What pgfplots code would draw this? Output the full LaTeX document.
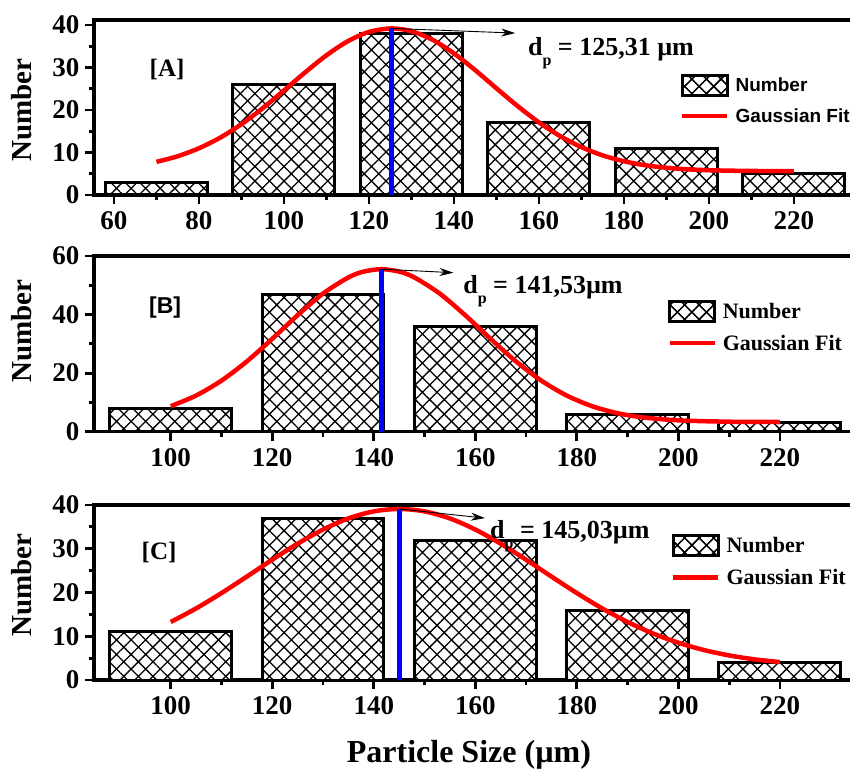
\documentclass[border=0pt]{standalone}
\usepackage{fontspec}
\setmainfont{Liberation Serif}
\setsansfont{Liberation Sans}
\usepackage{pgfplots}
\pgfplotsset{compat=1.18}
\usetikzlibrary{patterns.meta, arrows.meta}

\pgfplotsset{
  panel/.style={
    scale only axis, width=759pt, clip=false,
    axis line style={line width=3.2pt},
    tick align=outside, tick pos=left,
    major tick length=9pt, minor tick length=5pt,
    tick style={black, line width=2.8pt},
    minor x tick num=1, minor y tick num=1,
    /pgf/number format/assume math mode=true,
    ticklabel style={font=\bfseries\fontsize{27}{27}\selectfont},
    xticklabel style={yshift=-4pt},
    yticklabel style={xshift=-2pt},
    ymin=0,
    legend cell align=left,
    ylabel={Number},
    ylabel style={font=\bfseries\fontsize{29}{29}\selectfont, anchor=center},
  },
  hbar/.style={ybar, bar width=24, bar shift=0pt, draw=black, line width=3pt, fill=white,
    postaction={pattern={Hatch[angle=45,distance=10.3pt,line width=1.3pt]}},
    legend image code/.code={\draw[black, line width=3pt, fill=white, postaction={pattern={Hatch[angle=45,distance=10.3pt,line width=1.3pt]}}] (0pt,-10pt) rectangle (45pt,10pt);}},
  fitline/.style={red, line width=4.5pt, smooth, no marks,
    legend image code/.code={\draw[red, line width=4.5pt] (0pt,0pt) -- (45pt,0pt);}},
  dpline/.style={blue, line width=4.5pt, no marks, forget plot},
  legstyle/.style={draw=none, fill=none, anchor=north west, row sep=10pt, inner sep=0pt,
    /tikz/every odd column/.append style={column sep=4pt}},
}

\begin{document}
\begin{tikzpicture}
% ---------------- Panel A ----------------
\begin{axis}[panel, at={(94pt,576pt)}, anchor=south west, height=175pt,
  xmin=55.3, xmax=233.9, ymax=41.18,
  xtick={60,80,...,220}, ytick={0,10,20,30,40},
  ylabel style={at={(rel axis cs:-0.095,0.486)}},
  legend style={legstyle, at={(rel axis cs:0.772,0.695)},
    font=\sffamily\bfseries\fontsize{19}{19}\selectfont}]
\addplot[hbar] coordinates {(70,3) (100,26) (130,38) (160,17) (190,11) (220,5)};
\addlegendentry{Number}
\addplot[fitline] coordinates {(70,7.80)(75,9.12)(80,11.00)(85,13.50)(90,16.66)(95,20.43)(100,24.59)(105,28.87)(110,32.87)(115,36.17)(120,38.37)(125.3,39.20)(130,38.54)(135,36.50)(140,33.31)(145,29.38)(150,25.10)(155,20.91)(160,17.09)(165,13.85)(170,11.26)(175,9.32)(180,7.94)(185,7.00)(190,6.41)(195,6.04)(200,5.83)(205,5.72)(210,5.66)(215,5.62)(220,5.61)};
\addlegendentry{Gaussian Fit}
\addplot[dpline] coordinates {(125.31,0) (125.31,39.2)};
\draw[-{Stealth[length=14pt,width=8pt]}, line width=0.9pt] (axis cs:125.31,39.2) -- (axis cs:154.4,38.1);
\node[anchor=base west, inner sep=0pt, font=\bfseries\fontsize{26}{26}\selectfont] at (axis cs:157.4,32.9) {d\raisebox{-10pt}{\fontsize{16}{16}\selectfont p} = 125,31 µm};
\node[font=\bfseries\fontsize{25}{25}\selectfont] at (axis cs:72.5,29.6) {[A]};
\end{axis}
% ---------------- Panel B ----------------
\begin{axis}[panel, at={(94pt,339.3pt)}, anchor=south west, height=175.7pt,
  xmin=84.89, xmax=234.4, ymax=60,
  xtick={100,120,...,220}, ytick={0,20,40,60},
  ylabel style={at={(rel axis cs:-0.095,0.573)}},
  legend style={legstyle, at={(rel axis cs:0.755,0.752)},
    font=\bfseries\fontsize{22}{22}\selectfont}]
\addplot[hbar] coordinates {(100,8) (130,47) (160,36) (190,6) (220,3)};
\addlegendentry{Number}
\addplot[fitline] coordinates {(100,8.71)(105,12.35)(110,17.45)(115,24.02)(120,31.72)(125,39.79)(130,47.16)(135,52.68)(138,54.67)(141.5,55.5)(145,54.67)(148,52.68)(153,47.16)(158,39.79)(163,31.72)(168,24.02)(173,17.45)(178,12.35)(183,8.71)(188,6.33)(193,4.89)(200,3.88)(210,3.41)(220,3.31)};
\addlegendentry{Gaussian Fit}
\addplot[dpline] coordinates {(141.53,0) (141.53,55.5)};
\draw[-{Stealth[length=14pt,width=8pt]}, line width=0.9pt] (axis cs:141.53,55.5) -- (axis cs:155.7,54.3);
\node[anchor=base west, inner sep=0pt, font=\bfseries\fontsize{26}{26}\selectfont] at (axis cs:157.6,47.3) {d\raisebox{-10pt}{\fontsize{16}{16}\selectfont p} = 141,53µm};
\node[font=\sffamily\bfseries\fontsize{23}{23}\selectfont] at (axis cs:98.9,42.4) {[B]};
\end{axis}
% ---------------- Panel C ----------------
\begin{axis}[panel, at={(94pt,91pt)}, anchor=south west, height=175pt,
  xmin=84.89, xmax=234.4, ymax=40,
  xtick={100,120,...,220}, ytick={0,10,20,30,40},
  ylabel style={at={(rel axis cs:-0.095,0.543)}},
  xlabel={Particle Size (µm)},
  xlabel style={font=\bfseries\fontsize{32}{32}\selectfont, at={(rel axis cs:0.494,-0.43)}, anchor=center},
  legend style={legstyle, at={(rel axis cs:0.76,0.835)},
    font=\bfseries\fontsize{22}{22}\selectfont}]
\addplot[hbar] coordinates {(100,11) (130,37) (160,32) (190,16) (220,4)};
\addlegendentry{Number}
\addplot[fitline] coordinates {(100,13.26)(105,16.36)(110,19.87)(115,23.64)(120,27.49)(125,31.16)(130,34.39)(135,36.93)(140,38.54)(145,39.10)(150,38.54)(155,36.93)(160,34.39)(165,31.16)(170,27.49)(175,23.64)(180,19.87)(185,16.36)(190,13.26)(195,10.64)(200,8.52)(205,6.86)(210,5.62)(215,4.72)(220,4.10)};
\addlegendentry{Gaussian Fit}
\addplot[dpline] coordinates {(145.03,0) (145.03,39.1)};
\draw[-{Stealth[length=14pt,width=8pt]}, line width=0.9pt] (axis cs:145.03,39.1) -- (axis cs:161.9,37);
\node[anchor=base west, inner sep=0pt, font=\bfseries\fontsize{26}{26}\selectfont] at (axis cs:162.9,32.4) {d\raisebox{-10pt}{\fontsize{16}{16}\selectfont p} = 145,03µm};
\node[font=\bfseries\fontsize{25}{25}\selectfont] at (axis cs:97.7,29.1) {[C]};
\end{axis}
\pgfresetboundingbox
\path[use as bounding box] (0pt,0pt) rectangle (850pt,771pt);
\end{tikzpicture}
\end{document}
